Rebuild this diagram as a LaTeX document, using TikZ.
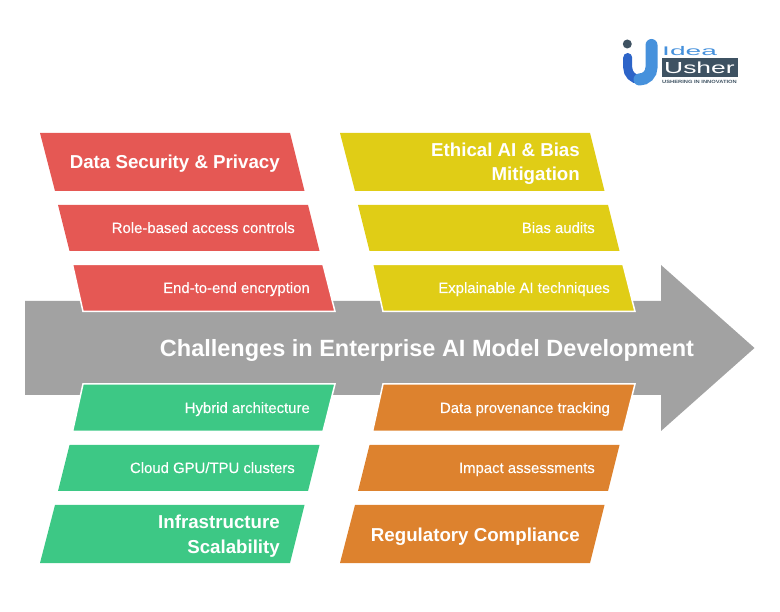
\documentclass[tikz,border=0pt]{standalone}
\usepackage{fontspec}
\setmainfont{Liberation Sans}
\newfontfamily\medfont[FakeBold=0.12]{Liberation Sans}
\definecolor{cred}{RGB}{229,88,84}
\definecolor{cyel}{RGB}{224,205,22}
\definecolor{cgrn}{RGB}{61,200,133}
\definecolor{corg}{RGB}{221,130,46}
\definecolor{cgry}{RGB}{162,162,162}
\definecolor{lblue}{RGB}{70,145,220}
\definecolor{dblue}{RGB}{45,100,200}
\definecolor{lslate}{RGB}{62,82,98}
\tikzset{
  x=1pt,y=-1pt,
  band/.style={draw=white,line width=1.5pt,line join=miter},
  head/.style={text=white,font=\bfseries\fontsize{18.7}{25}\selectfont,anchor=base east,inner sep=0pt},
  item/.style={text=white,font=\medfont\fontsize{14.9}{17}\selectfont,anchor=base east,inner sep=0pt},
  title/.style={text=white,font=\bfseries\fontsize{23.5}{28}\selectfont,anchor=base,inner sep=0pt},
}
\begin{document}
\begin{tikzpicture}
\useasboundingbox (0,0) rectangle (780,612);
% arrow
\fill[cgry] (25,301) -- (661,301) -- (661,265) -- (754.5,348) -- (661,431) -- (661,395) -- (25,395) -- cycle;
\node[title] (main) at (427,356.5) {Challenges in Enterprise AI Model Development};
% left upper
\fill[cred] (40,133) -- (290,133) -- (304.5,191) -- (55,191) -- cycle;
\fill[cred] (58,205) -- (308,205) -- (319.5,251) -- (69.5,251) -- cycle;
\fill[cred,band] (72.5,264.5) -- (323,264.5) -- (335,311.5) -- (83,311.5) -- cycle;
\node[head] (r1) at (280,169) {Data Security \& Privacy};
\node[item] (r2) at (295,233) {Role-based access controls};
\node[item] (r3) at (310,293) {End-to-end encryption};
% right upper
\fill[cyel] (340,133) -- (590,133) -- (604.5,191) -- (355,191) -- cycle;
\fill[cyel] (358,205) -- (608,205) -- (619.5,251) -- (369.5,251) -- cycle;
\fill[cyel,band] (372.5,264.5) -- (623,264.5) -- (635,311.5) -- (383,311.5) -- cycle;
\node[head] (y1a) at (580,156.5) {Ethical AI \& Bias};
\node[head] (y1b) at (580,181) {Mitigation};
\node[item] (y2) at (595,233) {Bias audits};
\node[item] (y3) at (610,293) {Explainable AI techniques};
% left lower
\fill[cgrn,band] (83,384) -- (335,384) -- (323,431.5) -- (72.5,431.5) -- cycle;
\fill[cgrn] (69.5,445) -- (319.5,445) -- (308,491) -- (58,491) -- cycle;
\fill[cgrn] (55,505) -- (304.5,505) -- (290,563) -- (40,563) -- cycle;
\node[item] (g1) at (310,413) {Hybrid architecture};
\node[item] (g2) at (295,473) {Cloud GPU/TPU clusters};
\node[head] (g3a) at (280,528.5) {Infrastructure};
\node[head] (g3b) at (280,553) {Scalability};
% right lower
\fill[corg,band] (383,384) -- (635,384) -- (623,431.5) -- (372.5,431.5) -- cycle;
\fill[corg] (369.5,445) -- (619.5,445) -- (608,491) -- (358,491) -- cycle;
\fill[corg] (355,505) -- (604.5,505) -- (590,563) -- (340,563) -- cycle;
\node[item] (o1) at (610,413) {Data provenance tracking};
\node[item] (o2) at (595,473) {Impact assessments};
\node[head] (o3) at (580,541) {Regulatory Compliance};
% logo
\fill[lslate] (627.3,44) circle (4.5);
\fill[lslate] (662,58) rectangle (738,77);
\draw[dblue,line width=9pt,line cap=round] (627.7,57.5) -- (627.7,67.5) arc[start angle=180,end angle=90,radius=12];
\draw[lblue,line width=12pt,line cap=round] (651.5,45) -- (651.5,67.5) arc[start angle=0,end angle=90,radius=12];
\node[text=lblue,font=\fontsize{12.5}{13}\selectfont,anchor=base west,inner sep=0pt] (l1) at (662,56) {\scalebox{2.25}[1]{Idea}};
\node[text=white,font=\fontsize{16}{16}\selectfont,anchor=base west,inner sep=0pt] (l2) at (664,73.5) {\scalebox{1.65}[1]{Usher}};
\node[text=lslate,font=\bfseries\fontsize{4.6}{5}\selectfont,anchor=base west,inner sep=0pt] (l3) at (662,83.5) {\scalebox{1.25}[1]{USHERING IN INNOVATION}};
\end{tikzpicture}
\end{document}
